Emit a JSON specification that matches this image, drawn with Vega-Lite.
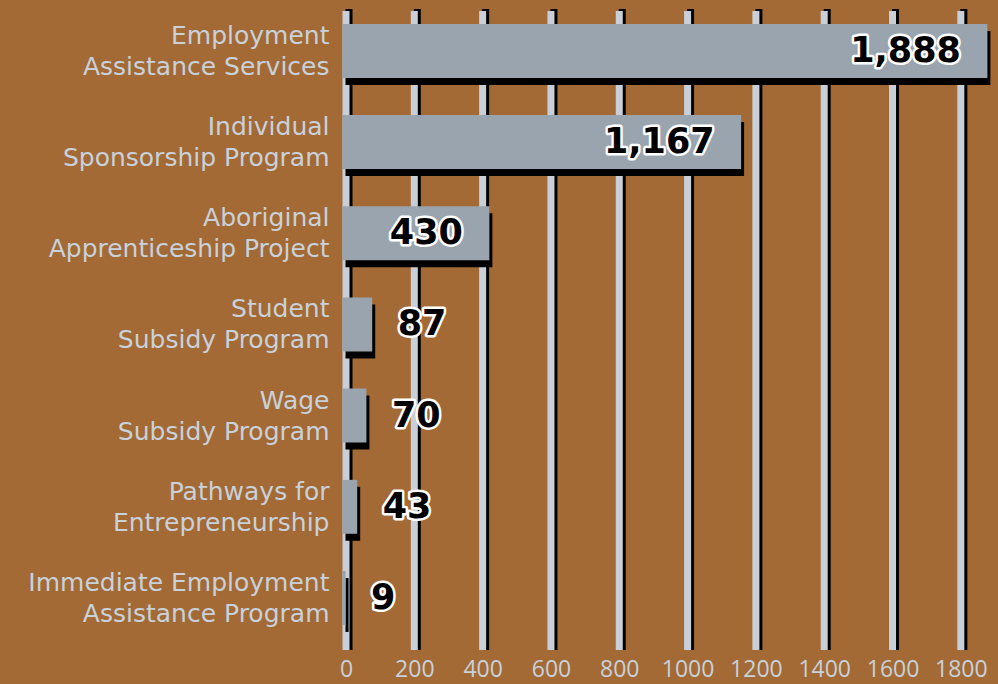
{
  "$schema": "https://vega.github.io/schema/vega-lite/v6.json",
  "autosize": "none",
  "width": 649,
  "height": 639,
  "padding": {"left": 346, "top": 11, "right": 3, "bottom": 34},
  "background": "#A36A35",
  "config": {"view": {"stroke": null}},
  "datasets": {
    "programs": [
      {"program": "Employment\nAssistance Services", "amount": 1888},
      {"program": "Individual\nSponsorship Program", "amount": 1167},
      {"program": "Aboriginal\nApprenticeship Project", "amount": 430},
      {"program": "Student\nSubsidy Program", "amount": 87},
      {"program": "Wage\nSubsidy Program", "amount": 70},
      {"program": "Pathways for\nEntrepreneurship", "amount": 43},
      {"program": "Immediate Employment\nAssistance Program", "amount": 9}
    ],
    "ticks": [
      {"amount": 0}, {"amount": 200}, {"amount": 400}, {"amount": 600}, {"amount": 800},
      {"amount": 1000}, {"amount": 1200}, {"amount": 1400}, {"amount": 1600}, {"amount": 1800}
    ]
  },
  "encoding": {
    "x": {
      "field": "amount",
      "type": "quantitative",
      "scale": {"domain": [0, 1900], "nice": false, "zero": true},
      "axis": {
        "values": [0, 200, 400, 600, 800, 1000, 1200, 1400, 1600, 1800],
        "format": "d",
        "title": null,
        "grid": false,
        "domain": false,
        "ticks": false,
        "labelPadding": 8,
        "labelFont": "Open Sans",
        "labelFontSize": 23,
        "labelColor": "#C9D1DB",
        "labelFlush": false,
        "labelOverlap": false
      }
    }
  },
  "layer": [
    {
      "data": {"name": "ticks"},
      "mark": {"type": "rule", "color": "#000000", "strokeWidth": 7, "xOffset": 3, "yOffset": -2, "y2Offset": -1},
      "encoding": {}
    },
    {
      "data": {"name": "ticks"},
      "mark": {"type": "rule", "color": "#C8CFD9", "strokeWidth": 7},
      "encoding": {}
    },
    {
      "data": {"name": "programs"},
      "layer": [
        {
          "mark": {"type": "bar", "color": "#000000", "xOffset": -0.5, "x2Offset": 3, "yOffset": 7, "y2Offset": 7},
          "encoding": {
            "y": {"field": "program", "type": "nominal", "sort": null, "title": null,
              "scale": {"paddingInner": 0.408, "paddingOuter": 0.208, "align": 0.34},
              "axis": {
                "domain": false, "ticks": false, "labelPadding": 17,
                "labelFont": "DejaVu Sans", "labelFontSize": 25, "labelColor": "#C9D1DB",
                "labelLimit": 400, "labelLineHeight": 31, "labelOffset": -15,
                "labelExpr": "split(datum.label, '\\n')"
              }
            }
          }
        },
        {
          "mark": {"type": "bar", "color": "#9AA4AE", "xOffset": -3.5},
          "encoding": {
            "y": {"field": "program", "type": "nominal", "sort": null}
          }
        },
        {
          "transform": [{"filter": "datum.amount > 300"}],
          "mark": {"type": "text", "align": "right", "baseline": "middle", "dx": -30, "font": "DejaVu Sans", "fontWeight": "bold", "fontSize": 35, "color": "#FFFFFF", "stroke": "#FFFFFF", "strokeWidth": 5, "strokeJoin": "round"},
          "encoding": {
            "y": {"field": "program", "type": "nominal", "sort": null},
            "text": {"field": "amount", "type": "quantitative", "format": ",d"}
          }
        },
        {
          "transform": [{"filter": "datum.amount > 300"}],
          "mark": {"type": "text", "align": "right", "baseline": "middle", "dx": -30, "font": "DejaVu Sans", "fontWeight": "bold", "fontSize": 35, "color": "#000000"},
          "encoding": {
            "y": {"field": "program", "type": "nominal", "sort": null},
            "text": {"field": "amount", "type": "quantitative", "format": ",d"}
          }
        },
        {
          "transform": [{"filter": "datum.amount <= 300"}],
          "mark": {"type": "text", "align": "left", "baseline": "middle", "dx": 22, "font": "DejaVu Sans", "fontWeight": "bold", "fontSize": 35, "color": "#FFFFFF", "stroke": "#FFFFFF", "strokeWidth": 5, "strokeJoin": "round"},
          "encoding": {
            "y": {"field": "program", "type": "nominal", "sort": null},
            "text": {"field": "amount", "type": "quantitative", "format": ",d"}
          }
        },
        {
          "transform": [{"filter": "datum.amount <= 300"}],
          "mark": {"type": "text", "align": "left", "baseline": "middle", "dx": 22, "font": "DejaVu Sans", "fontWeight": "bold", "fontSize": 35, "color": "#000000"},
          "encoding": {
            "y": {"field": "program", "type": "nominal", "sort": null},
            "text": {"field": "amount", "type": "quantitative", "format": ",d"}
          }
        }
      ]
    }
  ]
}
